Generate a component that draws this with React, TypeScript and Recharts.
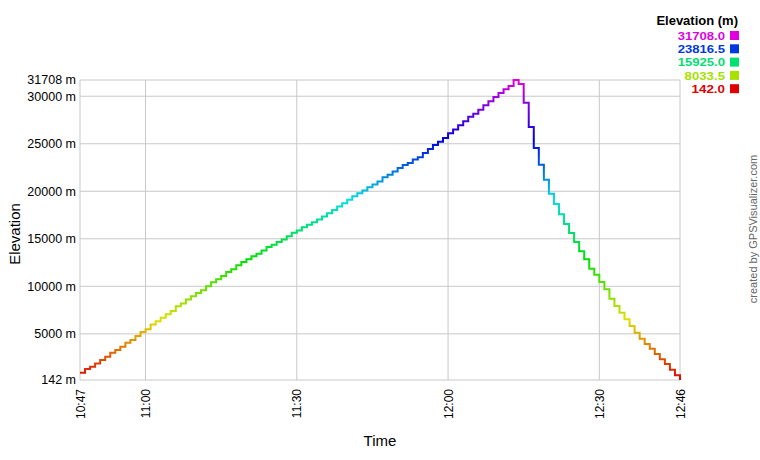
import React from 'react';
import { LineChart, Line, XAxis, YAxis, CartesianGrid } from 'recharts';

// Elevation (m), one reading per minute starting at 10:47
const elevation: number[] = [
  900, 1300, 1540, 1890, 2240, 2590, 3010, 3290, 3640, 4060, 4340, 4760, 5180, 5490, 5990,
  6330, 6680, 7070, 7410, 7900, 8190, 8610, 8950, 9300, 9580,
  10000, 10420, 10740, 11080, 11500, 11790, 12210, 12550, 12840, 13150, 13430, 13780, 14130,
  14380, 14650, 14930, 15280, 15640, 15880, 16220, 16480, 16750, 17030, 17350, 17690,
  18040, 18390, 18750, 19100, 19480, 19790, 20070, 20420, 20700, 21020, 21470, 21750, 22070,
  22450, 22770, 22980, 23330, 23570, 24030, 24450, 24870, 25210, 25600, 26100, 26500,
  26940, 27360, 27850, 28160, 28580, 29050, 29470, 29920, 30340, 30730, 31080, 31708,
  31300, 29320, 26760, 24550, 22800, 21220, 19750, 18660, 17580, 16560, 15610, 14660, 13680,
  12840, 11850, 11220, 10450, 9690, 8700, 7930, 7220, 6530, 5820, 5120, 4490, 3930, 3440,
  2880, 2320, 1830, 1230, 640, 142,
];

// minutes after 10:47
const timeTickMinutes: number[] = [0, 13, 43, 73, 103, 119];
const timeTickLabels: string[] = ['10:47', '11:00', '11:30', '12:00', '12:30', '12:46'];
const elevTicks: number[] = [142, 5000, 10000, 15000, 20000, 25000, 30000, 31708];

const legendValues: string[] = ['31708.0', '23816.5', '15925.0', '8033.5', '142.0'];
const legendColors: string[] = ['#e000e0', '#0038e0', '#00e070', '#a8e000', '#e00000'];

const data = elevation.map((e, i) => ({ t: i, elev: e }));

const FONT = '"Liberation Sans", Arial, Helvetica, sans-serif';

const TimeTick = (props: any) => {
  const { x, y, payload } = props;
  const idx = timeTickMinutes.indexOf(payload.value);
  return (
    <g transform={`translate(${x},${y})`}>
      <text
        transform="rotate(-90)"
        x={-9}
        y={0}
        dy="0.38em"
        textAnchor="end"
        fontSize={12}
        fontFamily={FONT}
        fill="#000"
      >
        {idx >= 0 ? timeTickLabels[idx] : ''}
      </text>
    </g>
  );
};

export default function App() {
  const rowY = [35.5, 48.8, 62.1, 75.4, 88.7];
  return (
    <div style={{ position: 'absolute', left: 0, top: 0, width: 760, height: 460, background: '#fff' }}>
      <LineChart
        width={760}
        height={460}
        data={data}
        margin={{ top: 80, right: 80, bottom: 0, left: 0 }}
      >
        <defs>
          <linearGradient id="elevGrad" x1="0" y1="1" x2="0" y2="0">
            <stop offset="0" stopColor="#e00000" />
            <stop offset="0.2" stopColor="#e0e000" />
            <stop offset="0.4" stopColor="#00e000" />
            <stop offset="0.6" stopColor="#00e0e0" />
            <stop offset="0.8" stopColor="#0000e0" />
            <stop offset="1" stopColor="#e000e0" />
          </linearGradient>
        </defs>
        <CartesianGrid stroke="#c8c8c8" strokeWidth={1} />
        <XAxis
          dataKey="t"
          type="number"
          domain={[0, 119]}
          ticks={timeTickMinutes}
          interval={0}
          height={80}
          axisLine={false}
          tickLine={false}
          tickSize={0}
          tickMargin={0}
          tick={<TimeTick />}
        />
        <YAxis
          type="number"
          domain={[142, 31708]}
          ticks={elevTicks}
          interval={0}
          width={80}
          axisLine={false}
          tickLine={false}
          tickSize={0}
          tickMargin={4}
          tickFormatter={(v: number) => `${v} m`}
          tick={{ fontSize: 12.5, fill: '#000', fontFamily: FONT }}
        />
        <Line
          type="stepAfter"
          dataKey="elev"
          stroke="url(#elevGrad)"
          strokeWidth={2}
          dot={false}
          activeDot={false}
          isAnimationActive={false}
        />
      </LineChart>
      <svg
        width={760}
        height={460}
        style={{ position: 'absolute', left: 0, top: 0, pointerEvents: 'none' }}
        fontFamily={FONT}
      >
        <text x={738} y={25} textAnchor="end" fontSize={13} fontWeight="bold" fill="#000">
          Elevation (m)
        </text>
        {legendValues.map((v, i) => (
          <g key={v}>
            <text
              x={725}
              y={rowY[i] + 4.1}
              textAnchor="end"
              fontSize={11.5}
              fontWeight="bold"
              fill={legendColors[i]}
              textLength={v.length * 6.9 - 1}
              lengthAdjust="spacingAndGlyphs"
            >
              {v}
            </text>
            <rect x={730} y={rowY[i] - 4.5} width={9} height={9} fill={legendColors[i]} />
          </g>
        ))}
        <text x={380} y={446} textAnchor="middle" fontSize={15} fill="#000">
          Time
        </text>
        <text transform="translate(20,234) rotate(-90)" textAnchor="middle" fontSize={15} fill="#000">
          Elevation
        </text>
        <text transform="translate(757,229) rotate(-90)" textAnchor="middle" fontSize={11} fill="#666">
          created by GPSVisualizer.com
        </text>
      </svg>
    </div>
  );
}
